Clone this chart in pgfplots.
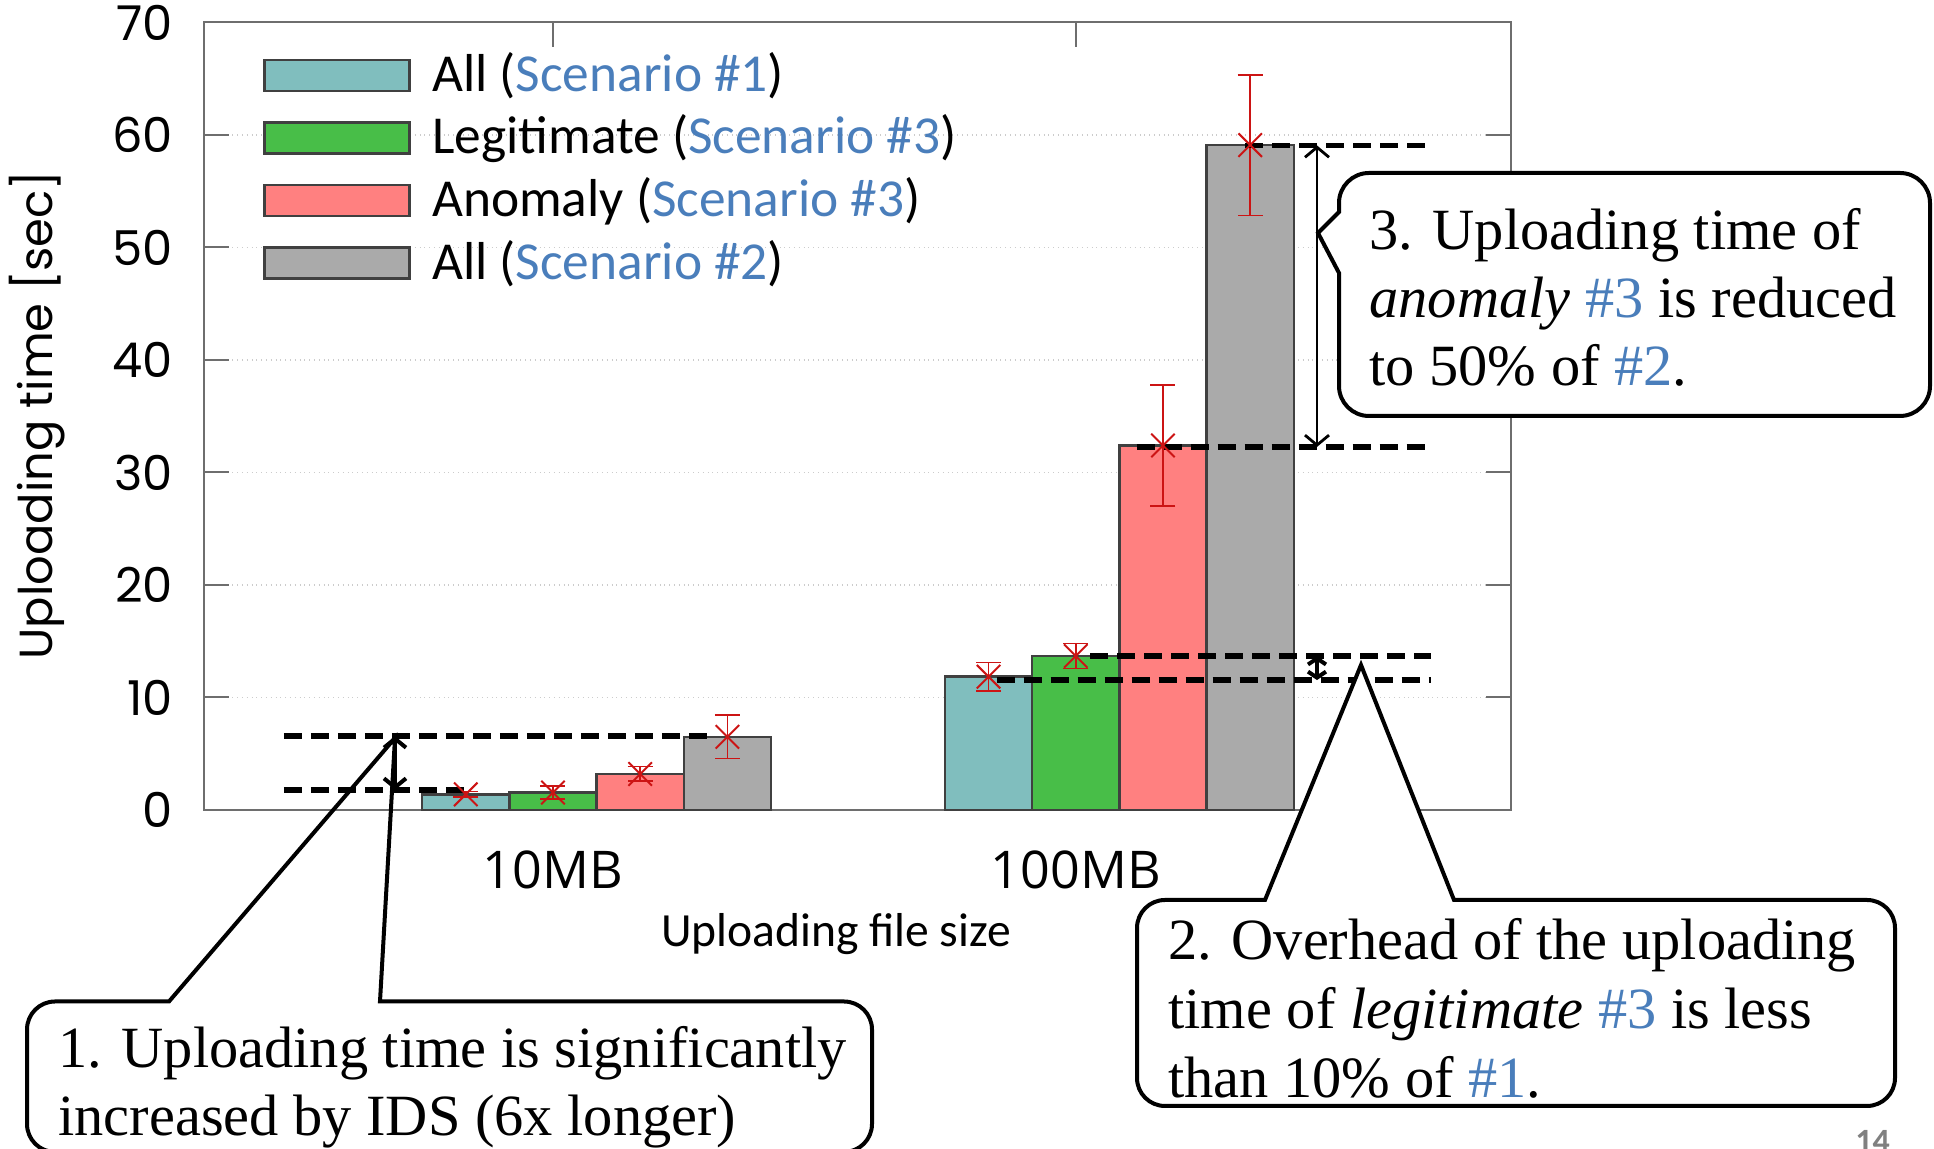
\documentclass[border=0pt]{standalone}
\usepackage{fontspec}
\setmainfont{Liberation Serif}
\newfontfamily\poppins{Poppins}
\newfontfamily\carlito{Carlito}
\newfontfamily\opensans{Open Sans}
\usepackage{pgfplots}
\pgfplotsset{compat=1.18}
\usepackage{pgfplotstable}
\usetikzlibrary{arrows.meta}
\definecolor{cteal}{RGB}{128,190,190}
\definecolor{cgreen}{RGB}{72,190,72}
\definecolor{cpink}{RGB}{255,128,128}
\definecolor{cgray}{RGB}{170,170,170}
\definecolor{errred}{RGB}{204,20,20}
\definecolor{scblue}{RGB}{74,126,187}
\definecolor{axgray}{RGB}{110,110,110}

\pgfplotstableread{
x  sa    sae   sl     sle   sn    sne   sb    sbe
0  1.39  0.25  1.55   0.60  3.20  0.65  6.50  1.93
1  11.85 1.26  13.69  1.10  32.40 5.40  59.10 6.25
}\datatable

\pgfplotsset{
  mybar/.style={ybar, bar width=0.1668, bar shift=#1, draw=black!75, line width=1.2pt,
    legend image code/.code={\draw[##1] (0pt,-8.75pt) rectangle (72.5pt,6.75pt);}},
  myerr/.style={only marks, mark=x, mark size=8.3pt, color=errred, line width=1pt, forget plot,
    error bars/.cd, y dir=both, y explicit,
    error bar style={line width=0.8pt, errred},
    error mark=-,
    error mark options={rotate=90, errred, mark size=6.25pt, line width=0.8pt}},
}
\tikzset{dashann/.style={black, line width=2.9pt, dash pattern=on 9pt off 4.5pt}}

\begin{document}
\begin{tikzpicture}[x=0.5pt,y=0.5pt]
\path[use as bounding box] (0,0) rectangle (1934,1149);
\begin{axis}[
  at={(101.75pt,169.5pt)}, anchor=south west,
  width=653.75pt, height=393.75pt, scale only axis,
  xmin=-0.6685, xmax=1.8325, ymin=0, ymax=70,
  xtick={0,1}, xticklabels={10MB,100MB},
  ytick={0,10,...,70},
  tick align=inside, major tick length=12.5pt,
  tick style={axgray, line width=1pt},
  axis line style={axgray, line width=1pt},
  ymajorgrids, grid style={gray!40, dotted, line width=0.8pt},
  /pgf/number format/assume math mode=true,
  yticklabel style={font=\poppins\fontsize{24}{24}\selectfont, inner sep=0pt, xshift=-15pt},
  xticklabel style={font=\opensans\fontsize{26}{26}\selectfont, inner sep=0pt, yshift=-20pt},
  clip=false,
  legend cell align=left,
  legend style={at={(axis cs:-0.5547,67.75)}, anchor=north west, draw=none, fill=none,
    inner sep=0pt, font=\carlito\fontsize{26.7}{30}\selectfont, row sep=6.3pt,
    /tikz/every odd column/.append style={column sep=8.7pt}},
]
\addplot[mybar=-0.1668, fill=cteal] table[x=x, y=sa] {\datatable};
\addlegendentry{All (\textcolor{scblue}{Scenario \#1})}
\addplot[mybar=0, fill=cgreen] table[x=x, y=sl] {\datatable};
\addlegendentry{Legitimate (\textcolor{scblue}{Scenario \#3})}
\addplot[mybar=0.1668, fill=cpink] table[x=x, y=sn] {\datatable};
\addlegendentry{Anomaly (\textcolor{scblue}{Scenario \#3})}
\addplot[mybar=0.3336, fill=cgray] table[x=x, y=sb] {\datatable};
\addlegendentry{All (\textcolor{scblue}{Scenario \#2})}

\addplot[myerr] table[x expr=\thisrow{x}-0.1668, y=sa, y error=sae] {\datatable};
\addplot[myerr] table[x=x, y=sl, y error=sle] {\datatable};
\addplot[myerr] table[x expr=\thisrow{x}+0.1668, y=sn, y error=sne] {\datatable};
\addplot[myerr] table[x expr=\thisrow{x}+0.3336, y=sb, y error=sbe] {\datatable};

% annotation dashed lines
\draw[dashann] (axis cs:-0.515,6.57) -- (axis cs:0.306,6.57);
\draw[dashann] (axis cs:-0.515,1.78) -- (axis cs:-0.1607,1.78);
\draw[dashann] (axis cs:1.0272,13.68) -- (axis cs:1.6794,13.68);
\draw[dashann] (axis cs:0.8487,11.55) -- (axis cs:1.6794,11.55);
\draw[dashann] (axis cs:1.3237,59.07) -- (axis cs:1.6775,59.07);
\draw[dashann] (axis cs:1.1165,32.27) -- (axis cs:1.6794,32.27);
% arrows
\draw[black, line width=2pt, {Straight Barb[length=4.5pt,width=11pt]}-{Straight Barb[length=4.5pt,width=11pt]}] (axis cs:-0.3022,6.57) -- (axis cs:-0.3022,1.78);
\draw[black, line width=2pt, {Straight Barb[length=3pt,width=9pt]}-{Straight Barb[length=3pt,width=9pt]}] (axis cs:1.4614,13.68) -- (axis cs:1.4614,11.55);
\draw[black, line width=0.7pt, {Straight Barb[length=5pt,width=12pt,line width=1.4pt]}-{Straight Barb[length=5pt,width=12pt,line width=1.4pt]}] (axis cs:1.4614,59.07) -- (axis cs:1.4614,32.27);
\end{axis}

% axis titles
\node[rotate=90, font=\poppins\fontsize{23.2}{24}\selectfont] at (37,734) {Uploading time [sec]};
\node[anchor=base, inner sep=0pt, font=\carlito\fontsize{23.8}{24}\selectfont] at (836,202) {Uploading file size};

% callout 1
\draw[black, line width=2pt] (169,147.5) -- (395,411) -- (380,147.5) -- (844,147.5)
  arc[start angle=90, end angle=0, radius=28] -- (872,25) arc[start angle=0,end angle=-90,radius=28]
  -- (55,-3) arc[start angle=270,end angle=180,radius=28] -- (27,119.5) arc[start angle=180, end angle=90, radius=28] -- cycle;
\begin{scope}[every node/.style={anchor=base west, inner sep=0pt, font=\fontsize{29.2}{34}\selectfont}]
\node at (58,81) {1. Uploading time is significantly};
\node at (58,13) {increased by IDS (6x longer)};
\end{scope}

% callout 2
\draw[black, line width=2pt, fill=white] (1265,249) -- (1361,484) -- (1454,249) -- (1867,249)
  arc[start angle=90, end angle=0, radius=28] -- (1895,71) arc[start angle=0,end angle=-90,radius=28]
  -- (1165,43) arc[start angle=270,end angle=180,radius=28] -- (1137,221) arc[start angle=180, end angle=90, radius=28] -- cycle;
\begin{scope}[every node/.style={anchor=base west, inner sep=0pt, font=\fontsize{29.2}{34}\selectfont}]
\node at (1168,189.4) {2. Overhead of the uploading};
\node at (1168,120.4) {time of \textit{legitimate} \textcolor{scblue}{\#3} is less};
\node at (1168,51.3) {than 10\% of \textcolor{scblue}{\#1}.};
\end{scope}

% callout 3
\draw[black, line width=2pt, fill=white] (1339,937) -- (1318,916) -- (1339,876) -- (1339,763)
  arc[start angle=180, end angle=270, radius=30] -- (1900,733) arc[start angle=270,end angle=360,radius=30]
  -- (1930,946) arc[start angle=0,end angle=90,radius=30] -- (1369,976) arc[start angle=90, end angle=180, radius=30] -- cycle;
\begin{scope}[every node/.style={anchor=base west, inner sep=0pt, font=\fontsize{29.2}{34}\selectfont}]
\node at (1369,899) {3. Uploading time of};
\node at (1369,831) {\textit{anomaly} \textcolor{scblue}{\#3} is reduced};
\node at (1369,763) {to 50\% of \textcolor{scblue}{\#2}.};
\end{scope}

\node[anchor=north west, inner sep=0pt, text=gray, font=\carlito\bfseries\fontsize{17}{17}\selectfont] at (1855,19) {14};
\end{tikzpicture}
\end{document}
